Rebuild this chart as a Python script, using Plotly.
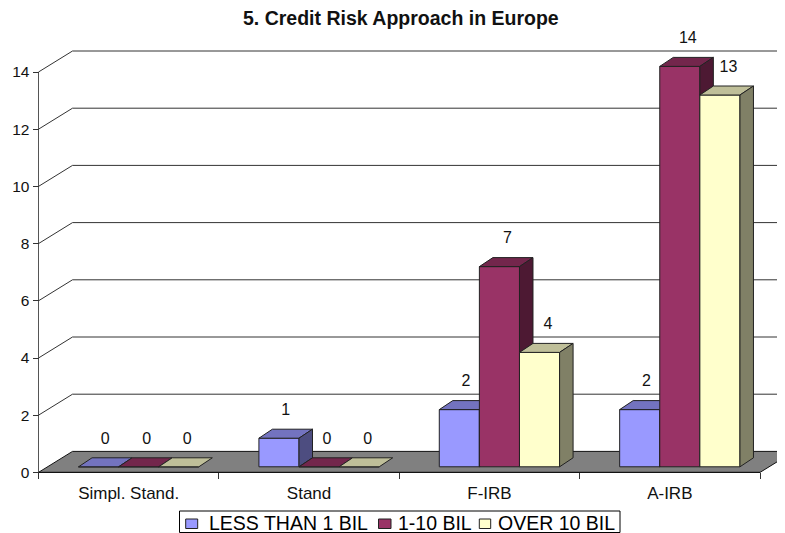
import plotly.graph_objects as go

# ---- data ----
categories = ["Simpl. Stand.", "Stand", "F-IRB", "A-IRB"]
series_names = ["LESS THAN 1 BIL", "1-10 BIL", "OVER 10 BIL"]
less_than_1 = [0, 1, 2, 2]
one_to_10 = [0, 0, 7, 14]
over_10 = [0, 0, 4, 13]
y_ticks = [0, 2, 4, 6, 8, 10, 12, 14]

front_colors = ["#9999FF", "#993366", "#FFFFCC"]
top_colors = ["#7373BF", "#73264C", "#BFBF99"]
side_colors = ["#4D4D80", "#4D1933", "#808066"]

# ---- calibration of the oblique projection (pixels in the 785x533 window) ----
OFF = 8  # the page's body margin
W, H = 785 - OFF, 533 - OFF
X0, X4, Y0 = 38.5 - OFF, 760.0 - OFF, 472.4 - OFF
XU = (X4 - X0) / len(categories)
YU = 28.6
dx = lambda p: p / XU
dy = lambda p: p / YU
X_RANGE = [-X0 / XU, (W - X0) / XU]
Y_RANGE = [-(H - Y0) / YU, Y0 / YU]
WALL_X, WALL_Y = 34, 21
BAR_W = 40.1
SHIFT = 10
BASE = 5.6
SK_X, SK_Y = 13.5, 9
LINE = "#222222"
LABEL_DX = [6.7, 8.0, 8.5]
LABEL_DY = 27.3

fig = go.Figure()

# floor
n = len(categories)
fig.add_trace(go.Scatter(
    x=[0, dx(WALL_X), n + dx(WALL_X), n, 0],
    y=[0, dy(WALL_Y), dy(WALL_Y), 0, 0],
    mode="lines", fill="toself", fillcolor="#808080",
    line=dict(color="#111111", width=1), hoverinfo="skip", showlegend=False))

# wall gridlines
gx, gy = [], []
for v in y_ticks[1:]:
    gx += [0, dx(WALL_X), n + dx(WALL_X), None]
    gy += [v, v + dy(WALL_Y), v + dy(WALL_Y), None]
fig.add_trace(go.Scatter(x=gx, y=gy, mode="lines", line=dict(color="#333333", width=1),
                         hoverinfo="skip", showlegend=False))

# axis lines
fig.add_trace(go.Scatter(x=[0, 0], y=[0, y_ticks[-1]], mode="lines",
                         line=dict(color="#555555", width=1), hoverinfo="skip", showlegend=False))
fig.add_trace(go.Scatter(x=[0, n], y=[0, 0], mode="lines",
                         line=dict(color="#111111", width=1), hoverinfo="skip", showlegend=False))

# bars, one overlay subplot per series so that later series hide earlier faces
all_values = [less_than_1, one_to_10, over_10]
lx, ly, lt = [], [], []
for s, vals in enumerate(all_values):
    xa, ya = "x" + str(s + 2), "y" + str(s + 2)
    centers = [i + 0.5 + dx(SHIFT + (s - 1) * BAR_W) for i in range(n)]
    fig.add_trace(go.Bar(x=centers, y=vals, base=[dy(BASE)] * n, width=dx(BAR_W),
                         name=series_names[s], marker=dict(color=front_colors[s], line=dict(color=LINE, width=1)),
                         xaxis=xa, yaxis=ya, showlegend=False))
    tx, ty, sx, sy = [], [], [], []
    for c, v in zip(centers, vals):
        l, r = c - dx(BAR_W / 2), c + dx(BAR_W / 2)
        b, t = dy(BASE), dy(BASE) + v
        tx += [l, l + dx(SK_X), r + dx(SK_X), r, l, None]
        ty += [t, t + dy(SK_Y), t + dy(SK_Y), t, t, None]
        if v > 0:
            sx += [r, r + dx(SK_X), r + dx(SK_X), r, r, None]
            sy += [t, t + dy(SK_Y), b + dy(SK_Y), b, t, None]
        lx.append(c + dx(LABEL_DX[s]))
        ly.append(t + dy(LABEL_DY))
        lt.append(str(v))
    fig.add_trace(go.Scatter(x=tx, y=ty, mode="lines", fill="toself", fillcolor=top_colors[s],
                             line=dict(color=LINE, width=1), xaxis=xa, yaxis=ya,
                             hoverinfo="skip", showlegend=False))
    if sx:
        fig.add_trace(go.Scatter(x=sx, y=sy, mode="lines", fill="toself", fillcolor=side_colors[s],
                                 line=dict(color=LINE, width=1), xaxis=xa, yaxis=ya,
                                 hoverinfo="skip", showlegend=False))

# value labels
fig.add_trace(go.Scatter(x=lx, y=ly, mode="text", text=lt, textposition="middle center",
                         textfont=dict(family="Liberation Sans", size=16, color="#111111"),
                         xaxis="x4", yaxis="y4", hoverinfo="skip", showlegend=False))

layout_axes = {}
for k in (2, 3, 4):
    layout_axes[f"xaxis{k}"] = dict(range=X_RANGE, overlaying="x", visible=False, fixedrange=True)
    layout_axes[f"yaxis{k}"] = dict(range=Y_RANGE, overlaying="y", visible=False, fixedrange=True)

# legend drawn to the reference's compact geometry
LEG_BOX = (179.5, 620.0, 511.0, 532.5)
SW_X = [(185.7, 197.7), (378.5, 391.0), (479.3, 490.7)]
SW_Y = (519.0, 528.5)
TXT_X = [208.0, 397.0, 496.5]
TXT_Y = 523.0
px = lambda p: (p - OFF) / W
py = lambda p: 1 - (p - OFF) / H
shapes = [dict(type="rect", xref="paper", yref="paper", x0=px(LEG_BOX[0]), x1=px(LEG_BOX[1]),
               y0=py(LEG_BOX[3]), y1=py(LEG_BOX[2]), line=dict(color="#000000", width=1), fillcolor="white")]
annotations = []
for s, name in enumerate(series_names):
    shapes.append(dict(type="rect", xref="paper", yref="paper", x0=px(SW_X[s][0]), x1=px(SW_X[s][1]),
                       y0=py(SW_Y[1]), y1=py(SW_Y[0]), line=dict(color="#222222", width=1),
                       fillcolor=front_colors[s]))
    annotations.append(dict(text=name, xref="paper", yref="paper", x=px(TXT_X[s]), y=py(TXT_Y),
                            xanchor="left", yanchor="middle", showarrow=False,
                            font=dict(family="Liberation Sans", size=19.5, color="#000000"),
                            borderpad=0))

annotations.append(dict(text="<b>5. Credit Risk Approach in Europe</b>", xref="paper", yref="paper",
                        x=px(400.5), y=py(18), xanchor="center", yanchor="middle", showarrow=False,
                        font=dict(family="Liberation Sans", size=19.5, color="#111111")))

fig.update_layout(
    width=W, height=H, margin=dict(l=0, r=0, t=0, b=0), autosize=False,
    paper_bgcolor="white", plot_bgcolor="white", barmode="overlay", showlegend=False,
    shapes=shapes, annotations=annotations,
    xaxis=dict(range=X_RANGE, anchor="free", position=(H - Y0) / H, fixedrange=True,
               showgrid=False, zeroline=False, showline=False,
               tickmode="array", tickvals=[i + 0.5 for i in range(n)], ticktext=categories,
               ticks="outside", ticklen=5, tickcolor="rgba(0,0,0,0)",
               tickfont=dict(family="Liberation Sans", size=17, color="#111111"),
               minor=dict(tickmode="array", tickvals=list(range(n + 1)), ticks="outside",
                          ticklen=6, tickcolor="#333333", showgrid=False)),
    yaxis=dict(range=Y_RANGE, anchor="free", position=X0 / W, fixedrange=True,
               showgrid=False, zeroline=False, showline=False,
               tickmode="array", tickvals=y_ticks, ticks="outside", ticklen=6, tickcolor="#333333",
               tickfont=dict(family="Liberation Sans", size=15.5, color="#111111")),
    **layout_axes,
)

fig.write_html("out.html")
